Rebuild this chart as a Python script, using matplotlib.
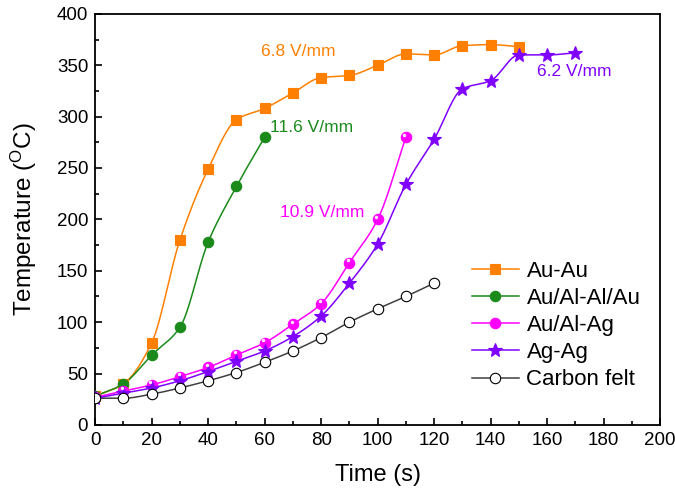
import matplotlib
matplotlib.use('Agg')
import matplotlib.pyplot as plt
import matplotlib.ticker as mticker
import numpy as np

plt.rcParams['font.family'] = ['Liberation Sans', 'DejaVu Sans']
plt.rcParams['mathtext.default'] = 'regular'

# ── data ─────────────────────────────────────────────────────────────────────
t_auau  = [0, 10, 20, 30, 40, 50, 60, 70, 80, 90, 100, 110, 120, 130, 140, 150]
T_auau  = [28, 40, 80, 180, 249, 297, 308, 323, 338, 340, 350, 361, 360, 369, 370, 368]

t_alal  = [0, 10, 20, 30, 40, 50, 60]
T_alal  = [28, 40, 68, 95, 178, 232, 280]

t_alag  = [0, 10, 20, 30, 40, 50, 60, 70, 80, 90, 100, 110]
T_alag  = [27, 33, 39, 47, 56, 68, 80, 98, 118, 158, 200, 280]

t_agag  = [0, 10, 20, 30, 40, 50, 60, 70, 80, 90, 100, 110, 120, 130, 140, 150, 160, 170]
T_agag  = [26, 31, 36, 43, 52, 62, 72, 86, 106, 138, 176, 234, 278, 327, 335, 360, 360, 362]

t_felt  = [0, 10, 20, 30, 40, 50, 60, 70, 80, 90, 100, 110, 120]
T_felt  = [26, 26, 30, 36, 43, 51, 61, 72, 85, 100, 113, 125, 138]


def smooth(x, y, n=30):
    # monotone cubic (PCHIP) through the points, only for the drawn curve
    x = np.asarray(x, float); y = np.asarray(y, float)
    h = np.diff(x)
    d = np.diff(y) / h
    m = np.zeros_like(y)
    for i in range(1, len(x) - 1):
        if d[i - 1] * d[i] > 0:
            w1 = 2 * h[i] + h[i - 1]; w2 = h[i] + 2 * h[i - 1]
            m[i] = (w1 + w2) / (w1 / d[i - 1] + w2 / d[i])
    m[0] = d[0]; m[-1] = d[-1]
    xs, ys = [], []
    for i in range(len(x) - 1):
        s = np.linspace(0, 1, n, endpoint=False)
        h00 = 2 * s ** 3 - 3 * s ** 2 + 1; h10 = s ** 3 - 2 * s ** 2 + s
        h01 = -2 * s ** 3 + 3 * s ** 2;    h11 = s ** 3 - s ** 2
        xs.extend(x[i] + s * h[i])
        ys.extend(h00 * y[i] + h10 * h[i] * m[i] + h01 * y[i + 1] + h11 * h[i] * m[i + 1])
    xs.append(x[-1]); ys.append(y[-1])
    return np.array(xs), np.array(ys)


C_AU   = '#FF8000'
C_AL   = '#1A8A1A'
C_AG1  = '#FF00FF'
C_AG2  = '#7F00FF'
C_FELT = '#404040'

fig = plt.figure(figsize=(6.75, 4.93), dpi=100)
ax = fig.add_axes([0.141, 0.138, 0.837, 0.834])

series = [
    (t_auau, T_auau, C_AU,   's', C_AU,    'Au-Au',        6.5),
    (t_alal, T_alal, C_AL,   'o', C_AL,    'Au/Al-Al/Au',  7.5),
    (t_alag, T_alag, C_AG1,  'o', C_AG1,   'Au/Al-Ag',     7.5),
    (t_agag, T_agag, C_AG2,  '*', C_AG2,   'Ag-Ag',        10),
    (t_felt, T_felt, C_FELT, 'o', 'white', 'Carbon felt',  7.5),
]
handles = []
for t, T, c, m, fc, lab, ms in series:
    xs, ys = smooth(t, T)
    ax.plot(xs, ys, color=c, lw=1.1, zorder=2)
    ec = 'black' if lab == 'Carbon felt' else c
    ax.plot(t, T, ls='none', marker=m, ms=ms, mfc=fc, mec=ec, mew=0.8, zorder=3)
    if lab == 'Au/Al-Ag':
        # little highlight to mimic the shaded sphere marker
        ax.plot(np.array(t) - 0.5, np.array(T) + 2.5, ls='none', marker='o',
                ms=2.5, mfc='white', mec='none', alpha=0.9, zorder=4)
    h, = ax.plot([], [], color=c, lw=1.1, marker=m, ms=ms, mfc=fc, mec=ec, mew=0.8)
    handles.append(h)

ax.text(72, 363, '6.8 V/mm', color=C_AU, fontsize=12.5, ha='center', va='center')
ax.text(62, 289, '11.6 V/mm', color=C_AL, fontsize=12.5, ha='left', va='center')
ax.text(65.5, 207, '10.9 V/mm', color=C_AG1, fontsize=12.5, ha='left', va='center')
ax.text(156.5, 344, '6.2 V/mm', color=C_AG2, fontsize=12.5, ha='left', va='center')

ax.set_xlim(0, 200)
ax.set_ylim(0, 400)
ax.xaxis.set_major_locator(mticker.MultipleLocator(20))
ax.xaxis.set_minor_locator(mticker.MultipleLocator(10))
ax.yaxis.set_major_locator(mticker.MultipleLocator(50))
ax.yaxis.set_minor_locator(mticker.MultipleLocator(25))
ax.tick_params(which='both', direction='in', top=False, right=False, width=1.2)
ax.tick_params(which='major', length=5, labelsize=13.5, pad=5)
ax.tick_params(which='minor', length=3)
for sp in ax.spines.values():
    sp.set_linewidth(1.3)

ax.set_xlabel('Time (s)', fontsize=17, labelpad=11)
ax.set_ylabel('Temperature ($^{O}$C)', fontsize=17.5, labelpad=13)

ax.legend(handles, [s[5] for s in series], loc='upper left',
          bbox_to_anchor=(0.667, 0.40), frameon=False, fontsize=16,
          handlelength=2.1, handletextpad=0.35, labelspacing=0.28,
          borderaxespad=0, borderpad=0)

plt.savefig('out.png', dpi=100)
